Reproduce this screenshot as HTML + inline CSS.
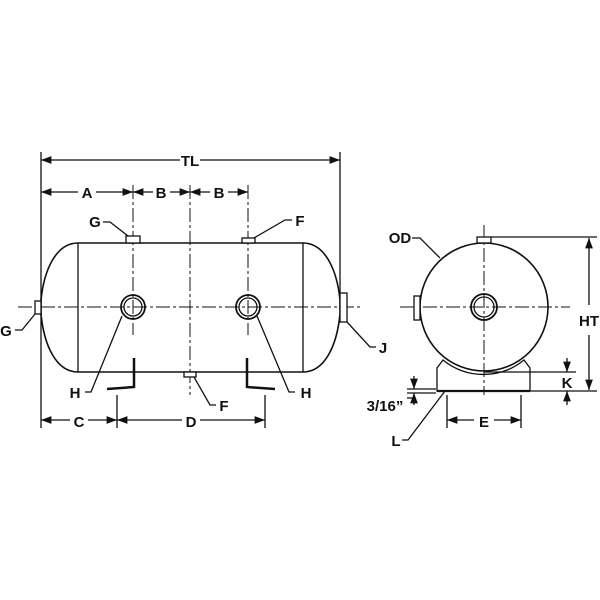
<!DOCTYPE html>
<html><head><style>body{margin:0;background:#fff}svg{display:block}text{font-family:"Liberation Sans",sans-serif;font-weight:bold;font-size:15px;fill:#111}</style></head>
<body>
<svg width="600" height="600" viewBox="0 0 600 600" xmlns="http://www.w3.org/2000/svg">
<defs><marker id="a" markerWidth="8" markerHeight="6" refX="8" refY="3" orient="auto-start-reverse"><path d="M0,0L8,3L0,6z" fill="#111"/></marker></defs>
<g stroke="#111" fill="none" stroke-width="1.3">
<!-- ext lines -->
<line x1="41" y1="152" x2="41" y2="428"/><line x1="340" y1="152" x2="340" y2="298"/>
<line x1="41" y1="160" x2="180" y2="160" marker-start="url(#a)"/><line x1="200" y1="160" x2="340" y2="160" marker-end="url(#a)"/>
<line x1="41" y1="192" x2="78" y2="192" marker-start="url(#a)"/><line x1="96" y1="192" x2="133" y2="192" marker-end="url(#a)"/>
<line x1="133" y1="192" x2="153" y2="192" marker-start="url(#a)"/><line x1="170" y1="192" x2="190" y2="192" marker-end="url(#a)"/>
<line x1="190" y1="192" x2="210" y2="192" marker-start="url(#a)"/><line x1="228" y1="192" x2="248" y2="192" marker-end="url(#a)"/>
<g stroke-dasharray="14,3,3,3" stroke-width="1">
<line x1="133" y1="185" x2="133" y2="335"/><line x1="190" y1="185" x2="190" y2="395"/><line x1="248" y1="185" x2="248" y2="335"/>
<line x1="18" y1="307" x2="360" y2="307"/>
<line x1="400" y1="307" x2="570" y2="307"/><line x1="484" y1="225" x2="484" y2="395"/>
</g>
<!-- tank -->
<path d="M78,243 L303,243 C325,243 337,270 340,300 L340,314 C337,345 325,372 303,372 L78,372 C56,372 44,345 41,314 L41,300 C44,270 56,243 78,243Z" stroke-width="1.6"/>
<line x1="78" y1="243" x2="78" y2="372"/><line x1="303" y1="243" x2="303" y2="372"/>
<rect x="126" y="236" width="14" height="7" fill="#fff"/><rect x="242" y="238" width="13" height="5" fill="#fff"/>
<rect x="35" y="301" width="6" height="13" fill="#fff"/><rect x="340" y="293" width="7" height="29" fill="#fff"/>
<rect x="184" y="372" width="12" height="5" fill="#fff"/>
<circle cx="133" cy="307" r="12" stroke-width="1.8"/><circle cx="133" cy="307" r="9"/>
<circle cx="248" cy="307" r="12" stroke-width="1.8"/><circle cx="248" cy="307" r="9"/>
<path d="M134,358 L134,387 L107,389" stroke-width="2.5"/><path d="M247,358 L247,387 L275,389" stroke-width="2.5"/>
<!-- leaders -->
<polyline points="103,222 110,222 128,236"/><polyline points="292,220 285,220 254,238"/>
<polyline points="15,330 22,330 35,314"/><polyline points="85,392 91,392 122,316"/>
<polyline points="295,392 289,392 257,316"/><polyline points="216,405 210,405 194,377"/>
<polyline points="376,347 370,347 347,322"/>
<line x1="117" y1="395" x2="117" y2="428"/><line x1="265" y1="395" x2="265" y2="428"/>
<line x1="41" y1="420" x2="70" y2="420" marker-start="url(#a)"/><line x1="88" y1="420" x2="117" y2="420" marker-end="url(#a)"/>
<line x1="117" y1="420" x2="182" y2="420" marker-start="url(#a)"/><line x1="200" y1="420" x2="265" y2="420" marker-end="url(#a)"/>
<!-- right view -->
<path d="M437,391 L437,368 L443,360 A64,64 0 0 0 524,360 L530,368 L530,391 Z" fill="#fff"/>
<line x1="437" y1="391" x2="530" y2="391" stroke-width="2.2"/>
<circle cx="484" cy="307" r="64" fill="none" stroke-width="1.6"/>
<line x1="400" y1="307" x2="570" y2="307" stroke-dasharray="14,3,3,3" stroke-width="1"/>
<line x1="484" y1="225" x2="484" y2="395" stroke-dasharray="14,3,3,3" stroke-width="1"/>
<rect x="477" y="237" width="14" height="6" fill="#fff"/><rect x="414" y="296" width="6" height="24" fill="#fff"/>
<circle cx="484" cy="307" r="13" stroke-width="1.8"/><circle cx="484" cy="307" r="10"/>
<line x1="491" y1="237" x2="597" y2="237"/><line x1="530" y1="391" x2="597" y2="391"/>
<line x1="484" y1="372" x2="576" y2="372"/>
<line x1="589" y1="238" x2="589" y2="305" marker-start="url(#a)"/><line x1="589" y1="335" x2="589" y2="390" marker-end="url(#a)"/>
<line x1="567" y1="358" x2="567" y2="372" marker-end="url(#a)"/><line x1="567" y1="405" x2="567" y2="391" marker-end="url(#a)"/>
<line x1="407" y1="389" x2="436" y2="389"/><line x1="407" y1="393" x2="436" y2="393"/>
<line x1="414" y1="376" x2="414" y2="389" marker-end="url(#a)"/><line x1="414" y1="405" x2="414" y2="393" marker-end="url(#a)"/>
<polyline points="407,398 414,398"/>
<line x1="447" y1="395" x2="447" y2="428"/><line x1="521" y1="395" x2="521" y2="428"/>
<line x1="447" y1="420" x2="474" y2="420" marker-start="url(#a)"/><line x1="494" y1="420" x2="521" y2="420" marker-end="url(#a)"/>
<polyline points="412,238 420,238 440,258"/><polyline points="402,440 408,440 445,391"/>
</g>
<text x="190" y="166" text-anchor="middle">TL</text>
<text x="87" y="198" text-anchor="middle">A</text><text x="161" y="198" text-anchor="middle">B</text><text x="219" y="198" text-anchor="middle">B</text>
<text x="95" y="227" text-anchor="middle">G</text><text x="300" y="226" text-anchor="middle">F</text>
<text x="6" y="336" text-anchor="middle">G</text><text x="75" y="398" text-anchor="middle">H</text><text x="306" y="398" text-anchor="middle">H</text>
<text x="224" y="411" text-anchor="middle">F</text><text x="79" y="427" text-anchor="middle">C</text><text x="191" y="427" text-anchor="middle">D</text>
<text x="383" y="353" text-anchor="middle">J</text>
<text x="400" y="243" text-anchor="middle">OD</text><text x="589" y="326" text-anchor="middle">HT</text>
<text x="567" y="388" text-anchor="middle">K</text><text x="385" y="411" text-anchor="middle">3/16”</text>
<text x="484" y="427" text-anchor="middle">E</text><text x="396" y="446" text-anchor="middle">L</text>
</svg>
</body></html>
